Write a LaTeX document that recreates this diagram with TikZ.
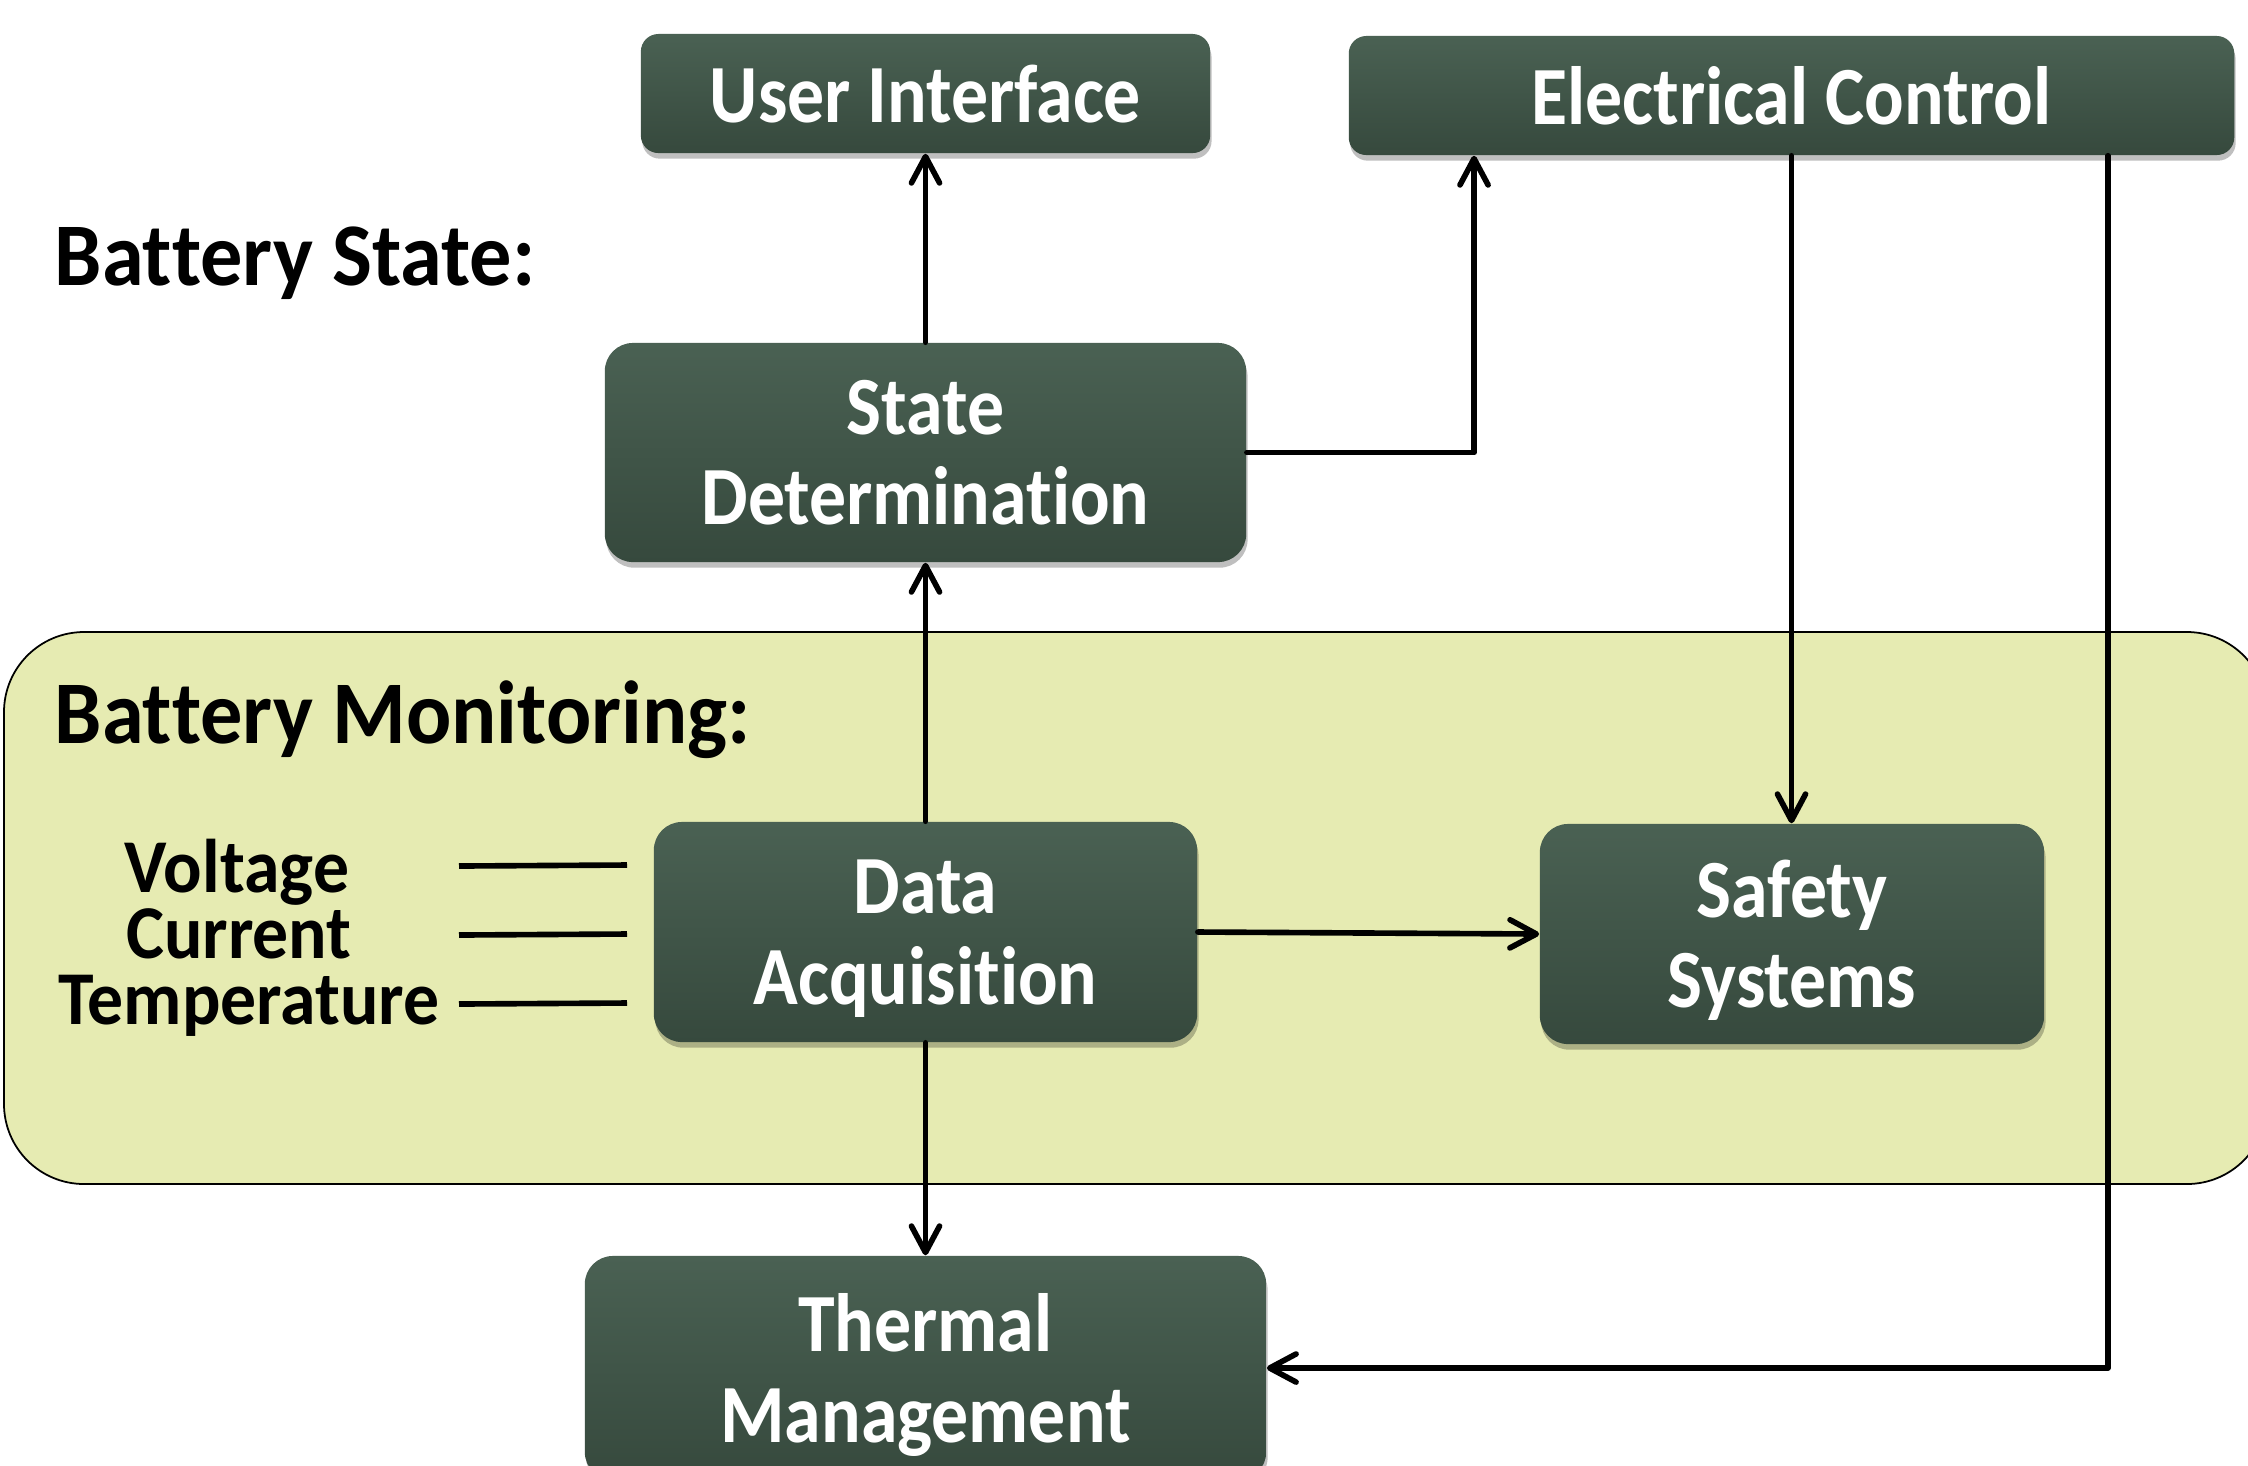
\documentclass[tikz,border=0pt]{standalone}
\usepackage{fontspec}
\setmainfont{Carlito}[Ligatures={NoCommon,NoContextual,NoRare}, Contextuals=NoAlternate]
\usetikzlibrary{arrows.meta,calc,shadows}
\definecolor{boxtop}{RGB}{74,97,83}
\definecolor{boxbot}{RGB}{54,73,61}
\definecolor{panelfill}{RGB}{230,235,178}
\newcommand{\vst}[1]{\scalebox{1}[1.12]{#1}}
\newcommand{\lst}[1]{\scalebox{1}[1.06]{#1}}
\newcommand{\nl}{\kern0pt }
\tikzset{
  box/.style={top color=boxtop, bottom color=boxbot, draw=none, text=white,
    font=\fontsize{21}{25.7}\selectfont\bfseries, align=center, inner sep=0pt, text depth=0pt,
    drop shadow={shadow xshift=0.4pt, shadow yshift=-1.6pt, opacity=0.25, fill=black}},
  bigbox/.style={box, rounded corners=8pt},
  smallbox/.style={box, rounded corners=5pt},
  arr/.style={line width=1.6pt, -{Straight Barb[length=7.5pt,width=8pt,round]}, line cap=round, line join=round},
  plainline/.style={line width=1.6pt},
  heading/.style={font=\fontsize{24}{28}\selectfont\bfseries, anchor=base west, inner sep=0pt},
  meas/.style={font=\fontsize{20.4}{20}\selectfont\bfseries, anchor=base, inner sep=0pt}
}
\begin{document}
\begin{tikzpicture}[x=0.01cm, y=-0.01cm]
\useasboundingbox (0,0) rectangle (2248,1465);
\clip (0,0) rectangle (2248,1465);
\fill[white] (0,0) rectangle (2248,1465);

% panel
\draw[fill=panelfill, draw=black, line width=0.5pt, rounded corners=0.8cm] (4,632) rectangle (2267,1184);

% headings
\node[heading] (bstate) at (54,285) {\lst{Bat\nl tery State:}};
\node[heading] (bmon) at (54,743) {\lst{Bat\nl tery Monitoring:}};

% boxes
\node[smallbox, minimum width=5.69cm, minimum height=1.19cm] (ui) at (925.5,93.5) {\vst{User Interface}};
\node[smallbox, minimum width=8.85cm, minimum height=1.19cm] (ec) at (1791.5,95.5) {\vst{Electrical Control}};
\node[bigbox, minimum width=6.41cm, minimum height=2.19cm] (sd) at (925.5,452.5) {\vst{State}\\\vst{Determinat\nl ion}};
\node[bigbox, minimum width=5.43cm, minimum height=2.20cm] (da) at (925.5,932) {\vst{Data}\\\vst{Acquisit\nl ion}};
\node[bigbox, minimum width=5.04cm, minimum height=2.20cm] (ss) at (1792,934) {\vst{Safety}\\\vst{Systems}};
\node[bigbox, minimum width=6.81cm, minimum height=2.24cm] (tm) at (925.5,1368) {\vst{Thermal}\\\vst{Management}};

% measurement labels
\node[meas] (volt) at (237,892) {\lst{Voltage}};
\node[meas] (curr) at (239,958) {\lst{Current}};
\node[meas] (temp) at (249,1024) {\lst{Temperature}};
\coordinate (v1) at (459,866); \coordinate (v2) at (627,865);
\coordinate (c1) at (459,935); \coordinate (c2) at (627,934);
\coordinate (t1) at (459,1004); \coordinate (t2) at (627,1003);
\draw[plainline] (v1) -- (v2);
\draw[plainline] (c1) -- (c2);
\draw[plainline] (t1) -- (t2);

% connectors
\draw[arr] (da.north) -- (sd.south);
\draw[arr] (sd.north) -- (ui.south);
\coordinate (ecin) at ($(ec.south west)+(126,0)$);
\draw[arr] (sd.east) -| (ecin);
\draw[arr] (ec.south) -- (ec.south |- ss.north);
\coordinate (ecout) at ($(ec.south west)+(760,0)$);
\draw[arr] (ecout) |- (tm.east);
\draw[arr] (da.east) -- (ss.west);
\draw[arr] (da.south) -- (tm.north);
\end{tikzpicture}
\end{document}
